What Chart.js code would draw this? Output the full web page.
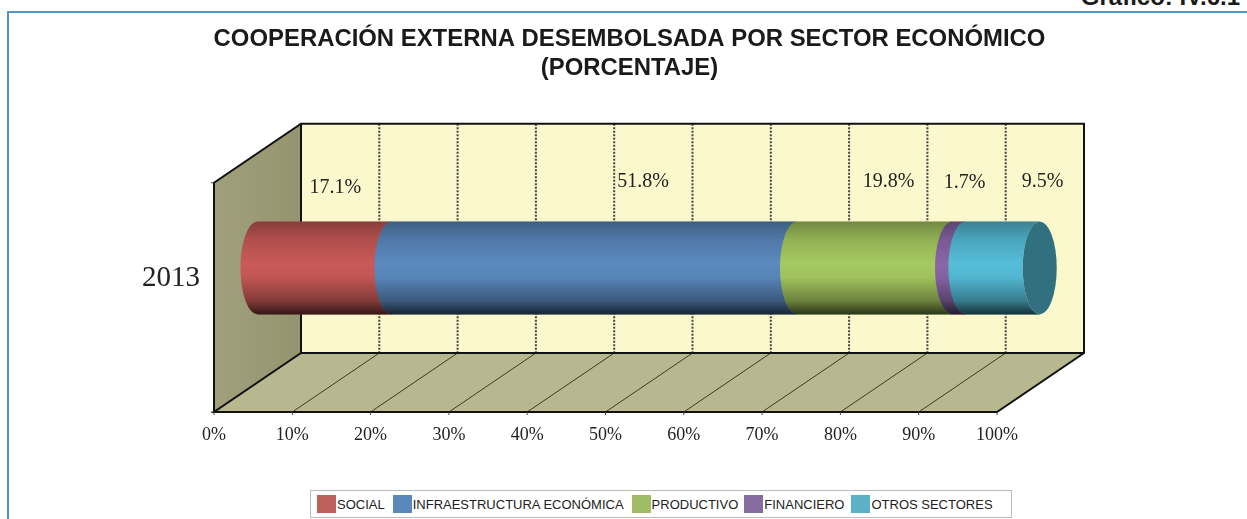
<!DOCTYPE html>
<html lang="es">
<head>
<meta charset="utf-8">
<title>Cooperación externa desembolsada por sector económico</title>
<script src="https://cdn.jsdelivr.net/npm/chart.js@4/dist/chart.umd.js"></script>
<style>
  html, body { margin: 0; padding: 0; width: 1247px; height: 519px; overflow: hidden; background: #fff; }
  #frame { position: absolute; left: 7px; top: 11px; width: 1260px; height: 540px; border: 2px solid #5096c8; }
  #grafico { position: absolute; right: 7px; top: -17px; font: bold 24px "Liberation Sans", sans-serif; color: #1a1a1a; white-space: nowrap; }
  #wrap { position: absolute; left: 0; top: 0; width: 1247px; height: 519px; }
  #legend { position: absolute; left: 310px; top: 490px; width: 700px; height: 26px; box-sizing: content-box; border: 1px solid #bbb; background: #fff;
    display: flex; align-items: center; font: 13px "Liberation Sans", sans-serif; color: #222; }
  #legend .item { display: flex; align-items: center; white-space: nowrap; }
  #legend .box { display: inline-block; width: 19px; height: 18px; margin-right: 1px; }
</style>
</head>
<body>
<div id="frame"></div>
<div id="grafico">Gráfico: IV.6.1</div>
<div id="wrap"><canvas id="myChart" width="1247" height="519"></canvas></div>
<div id="legend"></div>
<script>
const categories = ['2013'];
const sectorNames = ['SOCIAL', 'INFRAESTRUCTURA ECONÓMICA', 'PRODUCTIVO', 'FINANCIERO', 'OTROS SECTORES'];
const sectorValues = [17.1, 51.8, 19.8, 1.7, 9.5];
const sectorColors = ['#c95a57', '#5b8abf', '#a6c960', '#8866a8', '#55bdd8'];
const legendColors = ['#bd5f5a', '#5a88bb', '#a0bc64', '#876ca0', '#5bb1c6'];
const titleLines = ['COOPERACIÓN EXTERNA DESEMBOLSADA POR SECTOR ECONÓMICO', '(PORCENTAJE)'];

// the value labels were dragged by hand in the original, so they sit off their segments
const labelShiftX = [11, 49, 14, 6, 40];
const labelShiftY = [-34, -40, -40, -39, -40];
const legendGaps = [6, 8, 8, 6, 7];

const depthX = 87;
const depthY = -59;
const capRadius = 17;

const serif = '"Liberation Serif", serif';

function wallPath(c, pts) {
  c.beginPath();
  pts.forEach((p, i) => i ? c.lineTo(p[0], p[1]) : c.moveTo(p[0], p[1]));
  c.closePath();
}

const box3d = {
  id: 'box3d',
  afterLayout(chart) {
    // title is centred a little to the right of the page
    chart.titleBlock.left = 12;
    chart.titleBlock.right = 1247;
  },
  beforeDatasetsDraw(chart) {
    const c = chart.ctx;
    const a = chart.chartArea;
    const xs = chart.scales.x;
    const l = a.left, r = a.right, t = a.top, b = a.bottom;
    c.save();

    // back wall
    c.fillStyle = '#fcf8cd';
    c.fillRect(l + depthX, t + depthY, r - l, b - t);

    // left wall
    const side = c.createLinearGradient(l, 0, l + depthX, 0);
    side.addColorStop(0, '#a0a07c');
    side.addColorStop(1, '#94946f');
    c.fillStyle = side;
    wallPath(c, [[l, t], [l + depthX, t + depthY], [l + depthX, b + depthY], [l, b]]);
    c.fill();

    // floor
    c.fillStyle = '#b8b890';
    wallPath(c, [[l, b], [l + depthX, b + depthY], [r + depthX, b + depthY], [r, b]]);
    c.fill();

    // grid lines
    xs.ticks.forEach(tick => {
      if (tick.value === 0 || tick.value === 100) return;
      const x = xs.getPixelForValue(tick.value);
      c.strokeStyle = '#3a3a2a';
      c.lineWidth = 1;
      c.setLineDash([]);
      c.beginPath();
      c.moveTo(x, b);
      c.lineTo(x + depthX, b + depthY);
      c.stroke();
      c.strokeStyle = '#444';
      c.lineWidth = 2;
      c.setLineDash([2, 1.5]);
      c.beginPath();
      c.moveTo(x + depthX, t + depthY);
      c.lineTo(x + depthX, b + depthY);
      c.stroke();
    });
    c.setLineDash([]);

    // frame edges
    c.strokeStyle = '#111';
    c.lineWidth = 2;
    c.beginPath();
    c.moveTo(l, b); c.lineTo(l, t); c.lineTo(l + depthX, t + depthY);
    c.lineTo(r + depthX, t + depthY); c.lineTo(r + depthX, b + depthY);
    c.lineTo(r, b); c.lineTo(l, b);
    c.lineTo(l + depthX, b + depthY); c.lineTo(r + depthX, b + depthY);
    c.moveTo(l + depthX, t + depthY); c.lineTo(l + depthX, b + depthY);
    c.stroke();

    // little tick stubs under the front edge
    c.lineWidth = 1;
    c.strokeStyle = '#444';
    xs.ticks.forEach(tick => {
      const x = xs.getPixelForValue(tick.value);
      c.beginPath(); c.moveTo(x, b); c.lineTo(x, b + 3); c.stroke();
    });
    c.beginPath(); c.moveTo(l - 3, t); c.lineTo(l, t); c.moveTo(l - 3, b); c.lineTo(l, b); c.stroke();
    c.restore();
  },
  // swap the flat bar for a piece of cylinder in the middle of the box
  beforeDatasetDraw(chart, args) {
    const c = chart.ctx;
    const el = chart.getDatasetMeta(args.index).data[0];
    const i = args.index;
    const x0 = el.base + depthX / 2;
    const x1 = el.x + depthX / 2;
    const cy = el.y + depthY / 2;
    const ry = el.height / 2;
    const top = cy - ry, bottom = cy + ry;
    // datasets paint last to first, so tuck each left edge under its neighbour
    const under = i === 0 ? 0 : 1;

    c.save();
    c.beginPath();
    c.ellipse(x0 - under, cy, capRadius, ry, 0, -Math.PI / 2, Math.PI / 2, true);
    c.lineTo(x1, bottom);
    c.ellipse(x1, cy, capRadius, ry, 0, Math.PI / 2, Math.PI * 1.5, false);
    c.closePath();
    c.fillStyle = sectorColors[i];
    c.fill();
    const shade = c.createLinearGradient(0, top, 0, bottom);
    shade.addColorStop(0, 'rgba(0,0,0,0.32)');
    shade.addColorStop(0.2, 'rgba(0,0,0,0.12)');
    shade.addColorStop(0.45, 'rgba(0,0,0,0)');
    shade.addColorStop(0.6, 'rgba(0,0,0,0.04)');
    shade.addColorStop(0.85, 'rgba(0,0,0,0.34)');
    shade.addColorStop(1, 'rgba(0,0,0,0.74)');
    c.fillStyle = shade;
    c.fill();

    // open end of the cylinder
    if (i === sectorValues.length - 1) {
      c.beginPath();
      c.ellipse(x1, cy, capRadius, ry, 0, 0, Math.PI * 2);
      c.fillStyle = '#30707f';
      c.fill();
    }

    c.fillStyle = '#222';
    c.font = '20px ' + serif;
    c.textAlign = 'center';
    c.textBaseline = 'middle';
    const mid = (x0 + x1) / 2;
    c.fillText(sectorValues[i].toFixed(1) + '%', mid + labelShiftX[i], top + labelShiftY[i]);
    c.restore();
    return false;
  }
};

const ctx = document.getElementById('myChart').getContext('2d');

const chart = new Chart(ctx, {
  type: 'bar',
  data: {
    labels: categories,
    datasets: sectorNames.map((name, i) => ({
      label: name,
      data: [sectorValues[i]],
      backgroundColor: legendColors[i],
      barThickness: 93
    }))
  },
  options: {
    indexAxis: 'y',
    responsive: false,
    animation: false,
    layout: { padding: { left: 0, right: 250, top: 0, bottom: 0 } },
    plugins: {
      legend: { display: false },
      tooltip: { enabled: false },
      title: {
        display: true,
        text: titleLines,
        color: '#1a1a1a',
        font: { family: '"Liberation Sans", sans-serif', size: 23.9, weight: 'bold', lineHeight: 1.25 },
        padding: { top: 24, bottom: 99 }
      }
    },
    scales: {
      x: {
        stacked: true,
        min: 0,
        max: 100,
        grid: { display: false },
        border: { display: false },
        ticks: {
          stepSize: 10,
          maxRotation: 0,
          autoSkip: false,
          padding: 4,
          color: '#222',
          font: { family: serif, size: 18 },
          callback: v => v + '%'
        },
        afterFit(s) { s.height = 107; }
      },
      y: {
        stacked: true,
        grid: { display: false },
        border: { display: false },
        ticks: {
          padding: 6,
          labelOffset: -19,
          color: '#222',
          font: { family: serif, size: 29 }
        },
        afterFit(s) { s.width = 214; }
      }
    }
  },
  plugins: [box3d]
});

// legend sits in its own bordered strip under the chart
const legendEl = document.getElementById('legend');
chart.data.datasets.forEach((ds, i) => {
  const item = document.createElement('span');
  item.className = 'item';
  item.style.marginLeft = legendGaps[i] + 'px';
  const swatch = document.createElement('span');
  swatch.className = 'box';
  swatch.style.background = ds.backgroundColor;
  item.appendChild(swatch);
  item.appendChild(document.createTextNode(ds.label));
  legendEl.appendChild(item);
});
</script>
</body>
</html>
